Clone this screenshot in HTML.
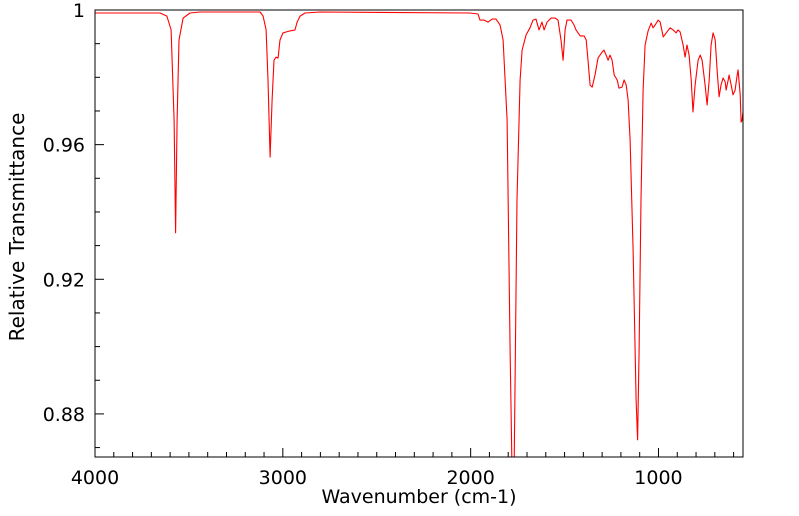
<!DOCTYPE html>
<html><head><meta charset="utf-8"><style>
body{margin:0;background:#fff;}
svg{display:block;font-family:"DejaVu Sans","Liberation Sans",sans-serif;}
</style></head><body>
<svg id="chart" width="799" height="516">
<defs><clipPath id="clip"><rect x="95" y="10" width="648" height="447"/></clipPath></defs>
<g id="axes"></g>
<path id="line" fill="none" stroke="#ff0000" stroke-width="1.1" stroke-linejoin="round" clip-path="url(#clip)"/>
<rect x="95" y="10" width="648" height="447" fill="none" stroke="#000" stroke-width="1"/>
<text x="419" y="503" text-anchor="middle" font-size="19">Wavenumber (cm-1)</text>
<text transform="translate(24,227) rotate(-90)" text-anchor="middle" font-size="20">Relative Transmittance</text>
</svg>
<script>
const wavenumbers=[4000,3654,3617,3595,3579,3571,3563,3553,3531,3494,3441,3121,3105,3089,3079,3068,3057,3047,3036,3025,3015,2999,2962,2935,2924,2908,2882,2802,2003,1961,1950,1929,1907,1886,1865,1843,1827,1806,1790,1779,1769,1753,1737,1726,1705,1684,1668,1652,1636,1620,1609,1593,1572,1550,1535,1519,1508,1497,1487,1465,1449,1439,1417,1396,1385,1375,1364,1353,1338,1322,1300,1290,1279,1268,1258,1247,1236,1220,1210,1194,1183,1172,1162,1151,1135,1119,1111,1103,1093,1082,1071,1055,1039,1029,1018,1002,991,975,959,938,922,906,896,885,869,858,848,837,826,816,805,789,778,768,752,741,730,720,709,698,688,677,667,656,645,640,629,624,613,603,592,581,576,565,560,555,549];
const transmittance=[0.9991,0.9991,0.9982,0.9941,0.9673,0.9338,0.9673,0.9911,0.9976,0.9991,0.9994,0.9994,0.9982,0.9941,0.9792,0.9563,0.9733,0.9851,0.9860,0.9857,0.9911,0.9932,0.9938,0.9941,0.9964,0.9982,0.9991,0.9994,0.9991,0.9988,0.9970,0.9970,0.9964,0.9973,0.9973,0.9955,0.9911,0.9673,0.8990,0.8600,0.8600,0.9436,0.9792,0.9881,0.9926,0.9947,0.9970,0.9973,0.9941,0.9964,0.9941,0.9964,0.9976,0.9976,0.9970,0.9911,0.9851,0.9941,0.9970,0.9970,0.9955,0.9941,0.9923,0.9923,0.9911,0.9851,0.9777,0.9771,0.9807,0.9857,0.9875,0.9881,0.9866,0.9851,0.9866,0.9851,0.9807,0.9792,0.9768,0.9771,0.9792,0.9777,0.9733,0.9614,0.9287,0.8842,0.8723,0.8990,0.9436,0.9762,0.9896,0.9938,0.9961,0.9947,0.9955,0.9970,0.9964,0.9920,0.9932,0.9947,0.9941,0.9932,0.9941,0.9935,0.9896,0.9860,0.9896,0.9866,0.9792,0.9697,0.9777,0.9851,0.9866,0.9851,0.9777,0.9718,0.9792,0.9896,0.9932,0.9911,0.9822,0.9742,0.9777,0.9798,0.9786,0.9762,0.9792,0.9807,0.9777,0.9748,0.9762,0.9807,0.9822,0.9748,0.9667,0.9673,0.9703];
const xTicks=[4000,3000,2000,1000];
const yTicks=[1,0.96,0.92,0.88];
const yTickLabels=["1","0.96","0.92","0.88"];
const L=95,R=743,T=10,B=457,X0=4000,X1=550,Y0=0.8672,Y1=1.0;
const sx=v=>L+(X0-v)/(X0-X1)*(R-L);
const sy=v=>B-(v-Y0)/(Y1-Y0)*(B-T);
const NS="http://www.w3.org/2000/svg";
const axes=document.getElementById('axes');
function mk(tag,attrs){const e=document.createElementNS(NS,tag);for(const k in attrs)e.setAttribute(k,attrs[k]);axes.appendChild(e);return e;}
for(let w=4000;w>=600;w-=100){const x=sx(w);const major=w%1000===0;
 const t=mk('line',{x1:x,x2:x,y1:B,y2:B-(major?9:5),stroke:'#000'});
 
 }
xTicks.forEach(w=>{const t=mk('text',{x:sx(w),y:484,'text-anchor':'middle','font-size':'19'});t.textContent=w;
 
 });
for(let k=87;k<=100;k++){const v=k/100;const y=sy(v);const major=(k%4===0);
 const t=mk('line',{x1:L,x2:L+(major?9:5),y1:y,y2:y,stroke:'#000'});
 
 }
yTicks.forEach((v,i)=>{const t=mk('text',{x:85,y:sy(v)+7,'text-anchor':'end','font-size':'19'});t.textContent=yTickLabels[i];
 
 });
let d='';wavenumbers.forEach((w,i)=>{d+=(i?'L':'M')+sx(w).toFixed(1)+','+sy(transmittance[i]).toFixed(1);});
document.getElementById('line').setAttribute('d',d);
</script>
</body></html>
